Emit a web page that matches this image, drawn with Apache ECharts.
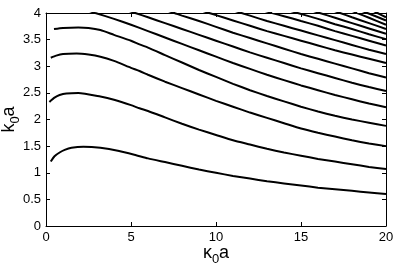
<!DOCTYPE html>
<html>
<head>
<meta charset="utf-8">
<script src="https://cdn.jsdelivr.net/npm/echarts@6/dist/echarts.min.js"></script>
<style>
  html, body { margin: 0; padding: 0; background: #fff; }
  #chart { width: 409px; height: 264px; }
</style>
</head>
<body>
<div id="chart"></div>
<script>
// axis ranges and ticks
const xTicks = [0, 5, 10, 15, 20];
const yTicks = [0, 0.5, 1, 1.5, 2, 2.5, 3, 3.5, 4];

// curves, [kappa0 a, k0 a]
const mode1 = [[0.28, 1.21], [0.5, 1.31], [0.8, 1.38], [1.1, 1.43], [1.5, 1.47], [2.2, 1.49], [3.2, 1.47], [4.3, 1.41], [5.3, 1.33], [6, 1.27], [7, 1.20], [8, 1.13], [9, 1.06], [10, 1.00], [11, 0.94], [12, 0.89], [13, 0.84], [14, 0.80], [15, 0.76], [16, 0.72], [17, 0.69], [18, 0.66], [19, 0.63], [20, 0.60]];
const mode2 = [[0.2, 2.33], [0.5, 2.41], [0.8, 2.46], [1.2, 2.49], [1.9, 2.50], [3.2, 2.43], [4, 2.37], [5, 2.27], [5.5, 2.21], [6, 2.16], [7, 2.04], [8, 1.92], [9, 1.81], [10, 1.71], [11, 1.61], [12, 1.53], [13, 1.45], [14, 1.38], [15, 1.32], [16, 1.26], [17, 1.21], [18, 1.16], [19, 1.11], [20, 1.07]];
const mode3 = [[0.28, 3.16], [0.6, 3.20], [1, 3.23], [1.8, 3.24], [2.5, 3.22], [3.2, 3.18], [4, 3.10], [5, 2.97], [5.5, 2.91], [6, 2.84], [7, 2.71], [8, 2.59], [9, 2.47], [10, 2.35], [11, 2.24], [12, 2.13], [13, 2.03], [14, 1.93], [15, 1.83], [16, 1.75], [17, 1.68], [18, 1.61], [19, 1.55], [20, 1.50]];
const mode4 = [[0.47, 3.70], [1, 3.72], [1.9, 3.73], [2.5, 3.72], [3.2, 3.68], [4, 3.59], [5, 3.48], [5.5, 3.41], [6, 3.35], [7, 3.21], [8, 3.07], [9, 2.93], [10, 2.80], [11, 2.67], [12, 2.55], [13, 2.44], [14, 2.34], [15, 2.24], [16, 2.15], [17, 2.07], [18, 2.00], [19, 1.94], [20, 1.88]];
const mode5 = [[1.5, 4.10], [2, 4.09], [2.9, 4.00], [4, 3.89], [5, 3.78], [6, 3.66], [7, 3.54], [8, 3.42], [9, 3.30], [10, 3.18], [11, 3.06], [12, 2.95], [13, 2.84], [14, 2.74], [15, 2.64], [16, 2.55], [17, 2.46], [18, 2.38], [19, 2.30], [20, 2.23]];
const mode6 = [[4, 4.13], [5.25, 4.00], [6, 3.92], [7, 3.81], [8, 3.70], [9, 3.59], [10, 3.48], [11, 3.37], [12, 3.26], [13, 3.16], [14, 3.06], [15, 2.96], [16, 2.87], [17, 2.78], [18, 2.69], [19, 2.61], [20, 2.535]];
const mode7 = [[6.5, 4.11], [7.55, 4.00], [8, 3.95], [9, 3.85], [10, 3.74], [11, 3.63], [12, 3.53], [13, 3.43], [14, 3.33], [15, 3.23], [16, 3.14], [17, 3.05], [18, 2.96], [19, 2.87], [20, 2.79]];
const mode8 = [[8.5, 4.11], [9.6, 4.00], [10, 3.96], [11, 3.86], [12, 3.76], [13, 3.66], [14, 3.57], [15, 3.48], [16, 3.39], [17, 3.30], [18, 3.22], [19, 3.14], [20, 3.06]];
const mode9 = [[10.5, 4.10], [11.5, 4.00], [12, 3.95], [13, 3.85], [14, 3.76], [15, 3.67], [16, 3.58], [17, 3.49], [18, 3.40], [19, 3.31], [20, 3.23]];
const mode10 = [[12.3, 4.09], [13.3, 4.00], [14, 3.94], [15, 3.85], [16, 3.76], [17, 3.66], [18, 3.57], [19, 3.48], [20, 3.39]];
const mode11 = [[13.8, 4.09], [14.8, 4.00], [16, 3.89], [17, 3.79], [18, 3.70], [19, 3.60], [20, 3.51]];
const mode12 = [[15.1, 4.10], [16.1, 4.00], [17, 3.91], [18, 3.81], [19, 3.71], [20, 3.61]];
const mode13 = [[16.3, 4.11], [17.3, 4.00], [18, 3.92], [19, 3.81], [20, 3.70]];
const mode14 = [[17.3, 4.13], [18.3, 4.00], [19, 3.91], [20, 3.78]];
const mode15 = [[17.9, 4.12], [18.9, 4.00], [20, 3.86]];
const mode16 = [[18.5, 4.16], [19.5, 4.00], [20, 3.92]];

const modes = [mode1, mode2, mode3, mode4, mode5, mode6, mode7, mode8,
  mode9, mode10, mode11, mode12, mode13, mode14, mode15, mode16];

const font = 'Liberation Sans';
const black = { color: '#000', width: 1 };
const nameRich = {
  m: { fontFamily: font, fontSize: 18, color: '#000' },
  s: { fontFamily: font, fontSize: 13, color: '#000', padding: [12, 0, 0, 0] }
};

// one visible axis with labels, one mirrored axis with ticks only (matlab box)
function xAxis(pos, labels) {
  return {
    type: 'value', position: pos, min: xTicks[0], max: xTicks[xTicks.length - 1], interval: 5,
    axisLine: { show: true, onZero: false, lineStyle: black },
    axisTick: { show: true, inside: true, length: 4, lineStyle: black },
    axisLabel: { show: labels, color: '#000', fontFamily: font, fontSize: 13, margin: 5 },
    splitLine: { show: false },
    name: labels ? '{m|κ}{s|0}{m|a}' : '',
    nameLocation: 'middle', nameGap: 15, nameMoveOverlap: false,
    nameTextStyle: { rich: nameRich }
  };
}
function yAxis(pos, labels) {
  return {
    type: 'value', position: pos, min: yTicks[0], max: yTicks[yTicks.length - 1], interval: 0.5,
    axisLine: { show: true, onZero: false, lineStyle: black },
    axisTick: { show: true, inside: true, length: 4, lineStyle: black },
    axisLabel: { show: labels, color: '#000', fontFamily: font, fontSize: 13, margin: 5 },
    splitLine: { show: false },
    name: labels ? '{m|k}{s|0}{m|a}' : '',
    nameLocation: 'middle', nameGap: 24, nameRotate: 90, nameMoveOverlap: false,
    nameTextStyle: { rich: nameRich }
  };
}

const chart = echarts.init(document.getElementById('chart'));
chart.setOption({
  animation: false,
  backgroundColor: '#fff',
  grid: { left: 46, right: 23, top: 13, bottom: 38, outerBoundsMode: 'none' },
  xAxis: [xAxis('bottom', true), xAxis('top', false)],
  yAxis: [yAxis('left', true), yAxis('right', false)],
  series: modes.map(d => ({
    type: 'line',
    data: d,
    smooth: 0.2,
    showSymbol: false,
    clip: true,
    lineStyle: { color: '#000', width: 2 }
  }))
});
</script>
</body>
</html>
